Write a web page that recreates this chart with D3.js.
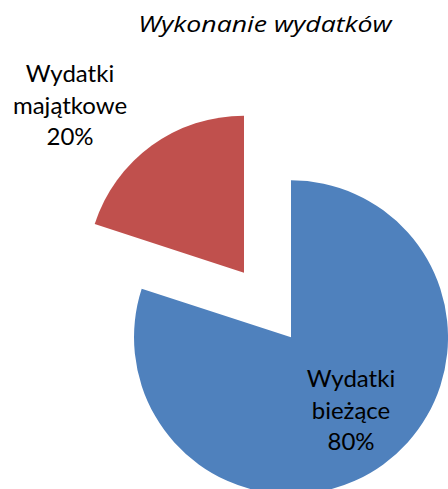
<!DOCTYPE html>
<html>
<head>
<meta charset="utf-8">
<script src="https://cdn.jsdelivr.net/npm/d3@7"></script>
<style>
  body { margin: 0; background: #fff; }
  svg { display: block; }
</style>
</head>
<body>
<script>
// data
var categories = ["Wydatki bieżące", "Wydatki majątkowe"];
var labelLines = [["Wydatki", "bieżące"], ["Wydatki", "majątkowe"]];
var values = [80, 20];
var colors = ["#4F81BD", "#C0504D"];

var width = 448, height = 489;
var cx = 267.5, cy = 305, radius = 157, explode = 40;

var svg = d3.select("body").append("svg")
    .attr("width", width)
    .attr("height", height);

// title is a bit stretched horizontally in the original
svg.append("text")
    .attr("transform", "translate(265,32) scale(1.24,1)")
    .attr("text-anchor", "middle")
    .attr("font-family", "'Open Sans', sans-serif")
    .attr("font-style", "italic")
    .attr("font-size", "21.5px")
    .attr("fill", "#000")
    .text("Wykonanie wydatków");

var pie = d3.pie().sort(null).value(function(d) { return d; });
var arcs = pie(values);
var arc = d3.arc().innerRadius(0).outerRadius(radius);

function offset(d) {
  var a = (d.startAngle + d.endAngle) / 2;
  return [Math.sin(a) * explode, -Math.cos(a) * explode];
}

var g = svg.append("g").attr("transform", "translate(" + cx + "," + cy + ")");

g.selectAll("path")
  .data(arcs)
  .enter().append("path")
    .attr("d", arc)
    .attr("fill", function(d, i) { return colors[i]; })
    .attr("transform", function(d) {
      var o = offset(d);
      return "translate(" + o[0] + "," + o[1] + ")";
    });

// label positions (blue inside, red outside)
var labelPos = [[351 - cx, 387 - cy], [70 - cx, 82 - cy]];

var labels = g.selectAll("text.lbl")
  .data(arcs)
  .enter().append("text")
    .attr("class", "lbl")
    .attr("text-anchor", "middle")
    .attr("font-family", "Lato, sans-serif")
    .attr("font-size", "24px")
    .attr("fill", "#000")
    .attr("transform", function(d, i) {
      return "translate(" + labelPos[i][0] + "," + labelPos[i][1] + ")";
    });

labels.each(function(d, i) {
  var t = d3.select(this);
  var lines = labelLines[i].concat([values[i] + "%"]);
  lines.forEach(function(s, k) {
    t.append("tspan").attr("x", 0).attr("y", k * 31.5).text(s);
  });
});
</script>
</body>
</html>
